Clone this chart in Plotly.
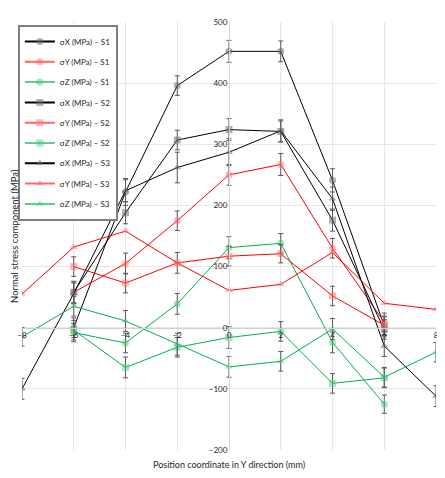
import plotly.graph_objects as go

# positions along Y (mm)
pos_s12 = [-6, -4, -2, 0, 2, 4, 6]
pos_s3 = [-8, -6, -4, -2, 0, 2, 4, 6, 8]

# sample 1
sx_s1 = [0, 222, 396, 452, 452, 241, 3]
sy_s1 = [58, 105, 175, 250, 267, 130, 9]
sz_s1 = [-8, -25, 39, 131, 138, -24, -125]
ex_s1 = [16, 22, 16, 18, 17, 19, 15]
ey_s1 = [18, 17, 16, 17, 18, 16, 15]
ez_s1 = [15, 16, 17, 18, 16, 17, 15]

# sample 2
sx_s2 = [58, 188, 307, 324, 321, 176, -3]
sy_s2 = [100, 73, 106, 117, 121, 52, 4]
sz_s2 = [-4, -65, -32, -16, -6, -91, -82]
ex_s2 = [17, 18, 16, 18, 17, 18, 16]
ey_s2 = [16, 16, 17, 16, 15, 16, 15]
ez_s2 = [16, 17, 16, 18, 16, 16, 16]

# sample 3
sx_s3 = [-100, 56, 224, 262, 287, 322, 211, -30, -112]
sy_s3 = [55, 132, 158, 106, 61, 71, 123, 40, 30]
sz_s3 = [-15, 35, 11, -27, -64, -55, -2, -81, -40]
ex_s3 = [17, 17, 18, 25, 22, 18, 19, 17, 17]
ez_s3 = [15, 16, 17, 18, 17, 16, 17, 16, 16]

names = ['σX (MPa) – S1', 'σY (MPa) – S1', 'σZ (MPa) – S1',
         'σX (MPa) – S2', 'σY (MPa) – S2', 'σZ (MPa) – S2',
         'σX (MPa) – S3', 'σY (MPa) – S3', 'σZ (MPa) – S3']

#colours: plot line, marker fill, legend line
line_col = {'x': '#000000', 'y': '#ff0000', 'z': '#00b050'}
mark_col = {'x': 'rgba(110,110,110,0.55)', 'y': 'rgba(255,110,110,0.5)', 'z': 'rgba(80,200,120,0.5)'}
leg_col = {'x': '#000000', 'y': '#ff6666', 'z': '#5ccf8a'}
err_col = '#595959'

series = [
    (pos_s12, sx_s1, ex_s1, 'x', 'circle'),
    (pos_s12, sy_s1, ey_s1, 'y', 'circle'),
    (pos_s12, sz_s1, ez_s1, 'z', 'circle'),
    (pos_s12, sx_s2, ex_s2, 'x', 'square'),
    (pos_s12, sy_s2, ey_s2, 'y', 'square'),
    (pos_s12, sz_s2, ez_s2, 'z', 'square'),
    (pos_s3, sx_s3, ex_s3, 'x', 'triangle-up'),
    (pos_s3, sy_s3, None, 'y', 'triangle-up'),
    (pos_s3, sz_s3, ez_s3, 'z', 'triangle-up'),
]

fig = go.Figure()

for (xs, ys, err, comp, sym), name in zip(series, names):
    err_y = dict(type='data', array=err, color=err_col, thickness=1, width=2.5) if err else dict(visible=False)
    fig.add_trace(go.Scatter(x=xs, y=ys, mode='lines+markers', name=name,
                             line=dict(color=line_col[comp], width=1),
                             marker=dict(symbol=sym, size=7, color=mark_col[comp]),
                             error_y=err_y, showlegend=False, hoverinfo='x+y'))

#legend entries (drawn thicker and lighter like the original)
for i, ((xs, ys, err, comp, sym), name) in enumerate(zip(series, names)):
    fig.add_trace(go.Scatter(x=[None], y=[None], mode='lines+markers', name=name,
                             legendgroup='g%d' % i,
                             line=dict(color=leg_col[comp], width=2),
                             marker=dict(symbol=sym, size=7, color=mark_col[comp])))

font_fam = 'Lato, Noto Sans, sans-serif'

# page body has an 8px margin, so the figure is a bit smaller than the window
fig.update_layout(
    width=437, height=470,
    margin=dict(l=14, r=9, t=14, b=28),
    plot_bgcolor='white', paper_bgcolor='white',
    font=dict(family=font_fam, size=8, color='#262626'),
    legend=dict(x=-0.01, y=0.993, xanchor='left', yanchor='top',
                bgcolor='white', bordercolor='#7f7f7f', borderwidth=2,
                font=dict(size=8, color='#262626'), tracegroupgap=1.3,
                itemclick=False, itemdoubleclick=False),
    annotations=[
        dict(text='Position coordinate in Y direction (mm)', x=0.5, y=-0.033,
             xref='paper', yref='paper', xanchor='center', yanchor='middle',
             showarrow=False, font=dict(size=9, color='#262626')),
        dict(text='Normal stress component (MPa)', x=-0.0195, y=0.5, textangle=-90,
             xref='paper', yref='paper', xanchor='center', yanchor='middle',
             showarrow=False, font=dict(size=9.5, color='#262626')),
    ],
)

fig.update_xaxes(range=[-8, 8], tick0=-8, dtick=2, showgrid=True, gridcolor='#e6e6e6', gridwidth=1,
                 zeroline=False, showline=True, linecolor='#d0d0d0', linewidth=1,
                 anchor='free', position=200/700, ticks='', automargin=False,
                 tickfont=dict(size=8, color='#262626'), fixedrange=True)
fig.update_yaxes(range=[-200, 500], tick0=-200, dtick=100, showgrid=True, gridcolor='#e6e6e6', gridwidth=1,
                 zeroline=False, showline=True, linecolor='#d9d9d9', linewidth=1,
                 anchor='free', position=0.5, ticks='', automargin=False,
                 tickfont=dict(size=8, color='#262626'), fixedrange=True)

fig.write_html('out.html')
